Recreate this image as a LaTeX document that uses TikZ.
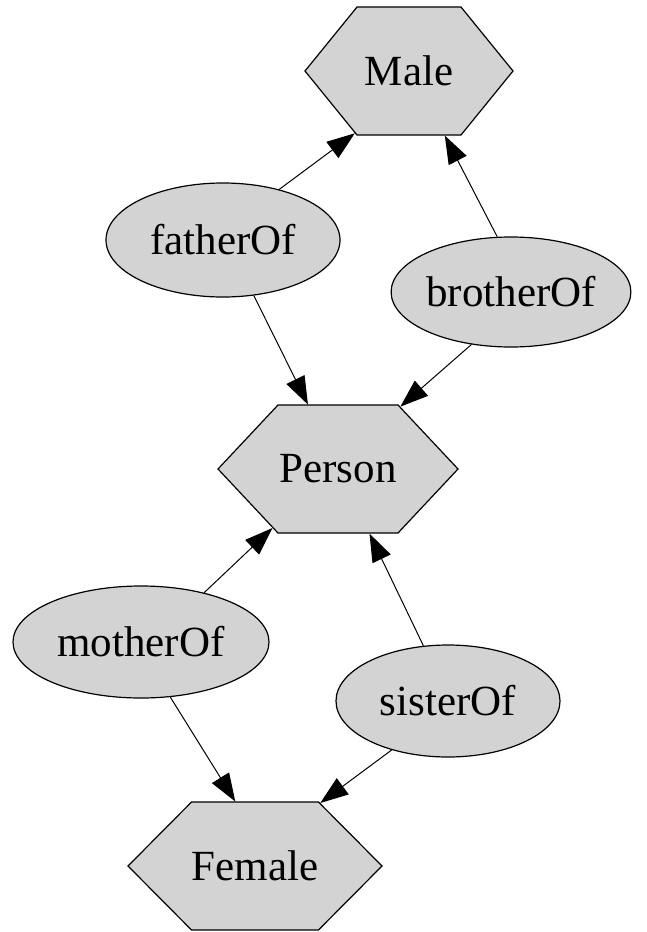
\documentclass[tikz,border=0pt]{standalone}
\usepackage{fontspec}
\setmainfont{Liberation Serif}
\usetikzlibrary{shapes.geometric,shapes.symbols,arrows.meta}
\definecolor{nodegray}{RGB}{211,211,211}
\begin{document}
\begin{tikzpicture}[x=1pt,y=-1pt,
  base/.style={draw=black, fill=nodegray, line width=1.2pt, inner sep=0pt,
    font=\fontsize{43}{50}\selectfont},
  classnode/.style={base, signal, signal to=east and west, minimum height=128pt},
  propnode/.style={base, ellipse},
  rel/.style={draw=black, line width=1pt, -{Triangle[length=28pt,width=20pt]}}]
\useasboundingbox (0,0) rectangle (646,932);

% classes
\node[classnode, minimum width=208pt, signal pointer angle=101.8] (male)   at (409,71)  {Male};
\node[classnode, minimum width=240pt, signal pointer angle=93.7]  (person) at (338,469) {Person};
\node[classnode, minimum width=254pt, signal pointer angle=90.4]  (female) at (255,866) {Female};

% properties
\node[propnode, minimum width=234pt, minimum height=114pt] (father)  at (223,240) {fatherOf};
\node[propnode, minimum width=228pt, minimum height=110pt] (brother) at (511,292) {brotherOf};
\node[propnode, minimum width=256pt, minimum height=112pt] (mother)  at (141,642) {motherOf};
\node[propnode, minimum width=224pt, minimum height=112pt] (sister)  at (448,701) {sisterOf};

% relations
\draw[rel] (father.42.9)   -- (male.229);
\draw[rel] (brother.104.3) -- (male.-61.3);
\draw[rel] (father.-61.3)  -- (person.115.8);
\draw[rel] (brother.233.3) -- (person.45);
\draw[rel] (mother.38.9)   -- (person.222.6);
\draw[rel] (sister.114.9)  -- (person.-64.9);
\draw[rel] (mother.-62.6)  -- (female.107.4);
\draw[rel] (sister.221.3)  -- (female.44.6);
\end{tikzpicture}
\end{document}
